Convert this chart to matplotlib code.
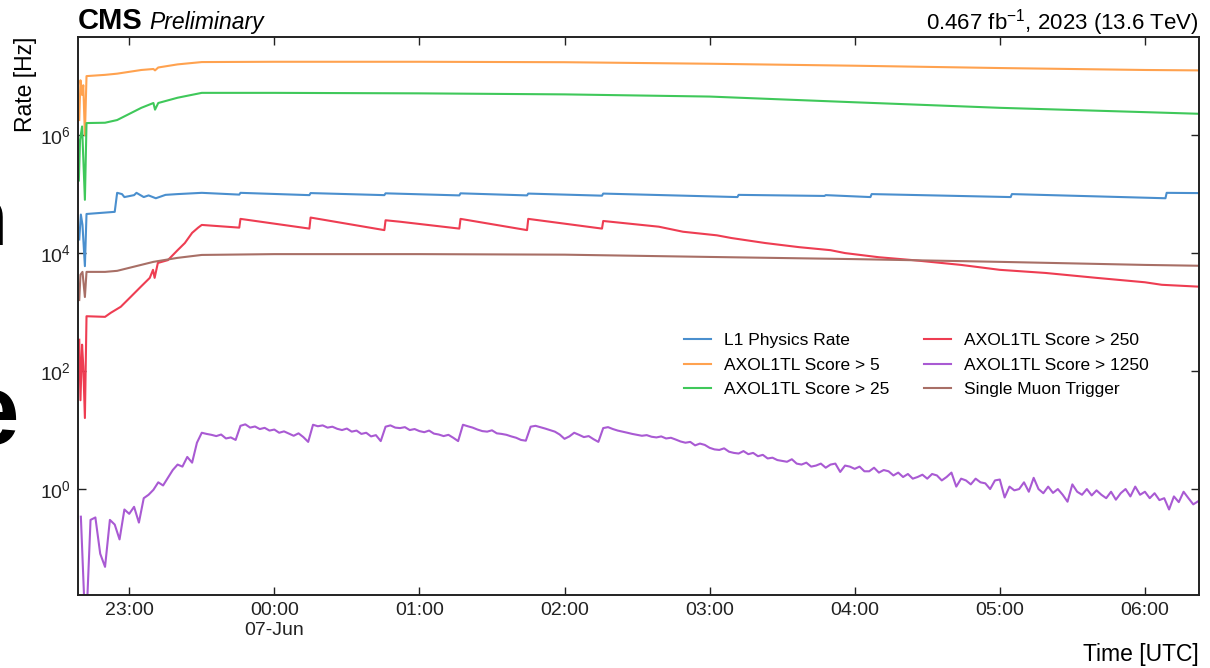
import matplotlib

matplotlib.use("Agg")
import matplotlib.dates as mdates
import matplotlib.pyplot as plt
import matplotlib.ticker as mticker
import numpy as np
import pandas as pd

plt.rcParams["font.family"] = ["Liberation Sans", "DejaVu Sans"]
plt.rcParams["mathtext.fontset"] = "custom"
plt.rcParams["mathtext.rm"] = "Liberation Sans"
plt.rcParams["mathtext.it"] = "Liberation Sans:italic"
plt.rcParams["mathtext.bf"] = "Liberation Sans:bold"

FIRST_DAY = "2023-06-06"
X_RANGE = ["22:38:50", "06:22:25"]
Y_RANGE = [1.6e-2, 4.6e7]
Y_TICKS = [1e0, 1e2, 1e4, 1e6]

SERIES_NAMES = [
    "L1 Physics Rate",
    "AXOL1TL Score > 5",
    "AXOL1TL Score > 25",
    "AXOL1TL Score > 250",
    "AXOL1TL Score > 1250",
    "Single Muon Trigger",
]

# L1 physics rate [Hz]
l1_times = ["22:39:20", "22:40:00", "22:40:40", "22:41:40", "22:42:20", "22:54:00", "22:55:00",
            "22:57:00", "22:58:00", "23:02:00", "23:03:00", "23:06:00", "23:08:00", "23:11:00",
            "23:15:00", "23:20:00", "23:30:00", "23:45:30", "23:46:00", "00:14:30", "00:15:00",
            "00:45:30", "00:46:00", "01:16:30", "01:17:00", "01:44:30", "01:45:00", "02:15:30",
            "02:16:00", "03:11:30", "03:12:00", "03:47:30", "03:48:00", "04:06:30", "04:07:00",
            "05:04:30", "05:05:00", "06:08:30", "06:09:00", "06:22:00"]
l1_rate = [1.7e4, 4.5e4, 3.0e4, 6.0e3, 4.6e4, 5.0e4, 1.05e5,
           1.0e5, 8.9e4, 9.6e4, 1.05e5, 8.9e4, 9.5e4, 8.5e4,
           9.7e4, 1.0e5, 1.05e5, 9.8e4, 1.05e5, 9.6e4, 1.04e5,
           9.6e4, 1.03e5, 9.5e4, 1.03e5, 9.5e4, 1.02e5, 9.4e4,
           1.02e5, 8.9e4, 9.7e4, 9.3e4, 9.6e4, 8.9e4, 1.0e5,
           8.9e4, 1.0e5, 8.5e4, 1.05e5, 1.04e5]

# AXOL1TL score > 5
s5_times = ["22:39:20", "22:39:50", "22:40:30", "22:41:00", "22:41:40", "22:42:20", "22:50:00",
            "22:55:00", "23:05:00", "23:10:00", "23:10:40", "23:12:00", "23:20:00", "23:30:00",
            "00:00:00", "01:00:00", "02:00:00", "03:00:00", "04:00:00", "05:00:00", "06:00:00",
            "06:22:00"]
s5_rate = [1.8e6, 8.5e6, 4.8e6, 7.0e6, 1.0e6, 1.0e7, 1.05e7,
           1.1e7, 1.27e7, 1.32e7, 1.25e7, 1.4e7, 1.58e7, 1.73e7,
           1.75e7, 1.75e7, 1.72e7, 1.62e7, 1.5e7, 1.37e7, 1.27e7,
           1.25e7]

# AXOL1TL score > 25
s25_times = ["22:39:10", "22:39:40", "22:40:30", "22:41:40", "22:42:20", "22:50:00", "22:55:00",
             "23:05:00", "23:10:00", "23:10:40", "23:12:00", "23:20:00", "23:30:00", "00:00:00",
             "01:00:00", "02:00:00", "03:00:00", "04:00:00", "05:00:00", "06:00:00", "06:22:00"]
s25_rate = [1.7e5, 8.3e5, 1.4e6, 8.0e4, 1.6e6, 1.62e6, 1.8e6,
            2.9e6, 3.5e6, 2.7e6, 3.5e6, 4.3e6, 5.2e6, 5.2e6,
            5.1e6, 4.9e6, 4.5e6, 3.6e6, 2.9e6, 2.45e6, 2.3e6]

# AXOL1TL score > 250
s250_times = ["22:39:20", "22:39:50", "22:40:30", "22:41:00", "22:41:40", "22:42:20", "22:50:00",
              "22:52:20", "22:56:30", "23:00:40", "23:04:50", "23:08:30", "23:09:50", "23:10:30",
              "23:11:50", "23:16:00", "23:20:00", "23:23:00", "23:26:00", "23:28:30", "23:30:00",
              "23:45:30", "23:46:00", "00:14:30", "00:15:00", "00:45:30", "00:46:00", "00:52:00",
              "01:16:30", "01:17:00", "01:44:30", "01:45:00", "02:15:30", "02:16:00", "02:39:00",
              "02:49:00", "03:03:00", "03:09:00", "03:23:00", "03:37:00", "03:50:00", "03:56:00",
              "04:10:00", "04:24:00", "04:44:00", "05:00:00", "05:19:00", "05:40:00", "06:00:00",
              "06:07:00", "06:22:00"]
s250_rate = [3.4e2, 32, 2.8e2, 1.2e2, 16, 8.5e2, 8.3e2,
             9.7e2, 1.23e3, 1.82e3, 2.7e3, 3.8e3, 5.2e3, 3.8e3,
             6.8e3, 7.6e3, 1.12e4, 1.48e4, 2.2e4, 2.7e4, 3.0e4,
             2.7e4, 3.8e4, 2.6e4, 4.0e4, 2.45e4, 3.6e4, 3.4e4,
             2.6e4, 3.8e4, 2.45e4, 3.8e4, 2.6e4, 3.5e4, 2.8e4,
             2.3e4, 2.0e4, 1.8e4, 1.48e4, 1.26e4, 1.12e4, 1.0e4,
             8.5e3, 7.6e3, 6.3e3, 5.2e3, 4.6e3, 3.8e3, 3.2e3,
             2.9e3, 2.7e3]

# AXOL1TL score > 1250, 2-minute bins starting at 22:40
s1250_start = "22:40"
s1250_bin_min = 2
s1250_rate = [
    0.34, 0.003, 0.30, 0.33, 0.08, 0.048, 0.30, 0.25, 0.14, 0.45,
    0.38, 0.50, 0.27, 0.70, 0.80, 0.97, 1.3, 1.15, 1.55, 2.1,
    2.6, 2.4, 3.5, 2.8, 6.1, 9.0, 8.6, 8.3, 7.9, 8.4,
    7.2, 7.5, 6.8, 11.8, 12.5, 11.0, 11.5, 10.4, 10.9, 9.8,
    10.2, 9.0, 9.5, 8.7, 8.0, 8.8, 7.6, 6.3, 12.3, 11.6,
    12.0, 11.0, 11.4, 10.5, 10.0, 10.6, 9.4, 9.8, 8.6, 9.0,
    7.8, 8.2, 6.5, 11.4, 12.0, 11.0, 10.8, 11.2, 10.0, 10.4,
    9.6, 9.2, 9.8, 8.7, 8.4, 7.9, 8.3, 7.4, 6.5, 12.3,
    11.6, 11.0, 10.2, 9.6, 9.4, 9.9, 8.8, 8.6, 8.3, 7.8,
    7.4, 6.8, 6.6, 11.4, 11.8, 11.2, 10.6, 10.0, 9.4, 8.4,
    7.1, 7.8, 9.0, 8.3, 7.6, 7.9, 7.0, 6.3, 10.8, 11.2,
    10.4, 9.8, 9.4, 9.0, 8.6, 8.3, 8.0, 8.2, 7.7, 7.5,
    7.8, 7.2, 7.4, 6.9, 6.4, 6.1, 6.3, 5.5, 5.9, 5.6,
    5.0, 4.7, 4.6, 4.9, 4.3, 4.1, 4.0, 4.4, 3.9, 4.1,
    3.6, 3.8, 3.3, 3.4, 3.1, 3.0, 2.9, 3.2, 2.7, 2.6,
    2.8, 2.4, 2.5, 2.7, 2.3, 2.6, 2.7, 1.95, 2.5, 2.4,
    2.2, 2.4, 2.0, 2.0, 2.3, 1.9, 2.1, 2.0, 1.7, 1.9,
    1.6, 1.8, 1.5, 1.6, 1.75, 1.5, 1.8, 1.7, 1.4, 1.6,
    1.9, 1.1, 1.5, 1.4, 1.2, 1.5, 1.3, 1.25, 1.0, 1.4,
    1.45, 0.72, 1.1, 0.95, 1.0, 1.3, 0.9, 1.55, 1.0, 0.85,
    1.1, 0.86, 1.0, 0.8, 0.61, 1.2, 0.9, 0.8, 1.0, 0.78,
    0.95, 0.8, 0.7, 0.9, 0.66, 0.85, 1.0, 0.75, 1.1, 0.8,
    0.9, 0.7, 0.85, 0.65, 0.7, 0.45, 0.75, 0.6, 0.9, 0.7,
    0.55, 0.62,
]

# single muon trigger
mu_times = ["22:39:20", "22:39:50", "22:40:40", "22:41:40", "22:42:20", "22:50:00", "22:55:00",
            "23:10:00", "23:20:00", "23:30:00", "00:00:00", "01:00:00", "02:00:00", "03:00:00",
            "04:00:00", "05:00:00", "06:00:00", "06:22:00"]
mu_rate = [1.6e3, 4.3e3, 4.8e3, 1.8e3, 4.8e3, 4.8e3, 5.0e3,
           7.1e3, 8.3e3, 9.3e3, 9.6e3, 9.6e3, 9.4e3, 8.6e3,
           7.9e3, 7.1e3, 6.3e3, 6.1e3]

COLORS = ["#4a8fce", "#ffa24f", "#3fc85a", "#ee3d52", "#a95ad3", "#a86f66"]


def to_time(clock: str) -> pd.Timestamp:
    ts = pd.Timestamp(f"{FIRST_DAY} {clock}")
    if ts.hour < 12:
        ts += pd.Timedelta(days=1)
    return ts


def hour_label(x, pos):
    t = mdates.num2date(x)
    if t.hour == 0:
        return t.strftime("%H:%M\n%d-%b")
    return t.strftime("%H:%M")


def main() -> None:
    s1250_times = pd.date_range(to_time(s1250_start), periods=len(s1250_rate),
                                freq=f"{s1250_bin_min}min")
    series = [
        ([to_time(t) for t in l1_times], l1_rate),
        ([to_time(t) for t in s5_times], s5_rate),
        ([to_time(t) for t in s25_times], s25_rate),
        ([to_time(t) for t in s250_times], s250_rate),
        (list(s1250_times), s1250_rate),
        ([to_time(t) for t in mu_times], mu_rate),
    ]

    fig = plt.figure(figsize=(12.1, 6.68), dpi=100)
    ax = fig.add_axes([0.0645, 0.1093, 0.9265, 0.8353])

    for (times, rate), name, color in zip(series, SERIES_NAMES, COLORS):
        ax.plot(times, rate, color=color, lw=1.5, label=name)

    ax.set_yscale("log")
    ax.set_ylim(*Y_RANGE)
    ax.set_xlim(to_time(X_RANGE[0]), to_time(X_RANGE[1]))
    ax.yaxis.set_major_locator(mticker.FixedLocator(Y_TICKS))
    ax.yaxis.set_minor_locator(mticker.NullLocator())
    ax.yaxis.set_major_formatter(
        mticker.FuncFormatter(lambda v, p: f"$10^{{{int(round(np.log10(v)))}}}$"))
    ax.xaxis.set_major_locator(mdates.HourLocator())
    ax.xaxis.set_minor_locator(mticker.NullLocator())
    ax.xaxis.set_major_formatter(mticker.FuncFormatter(hour_label))

    ax.tick_params(which="both", direction="in", top=True, right=True, length=6,
                   width=1, labelsize=14, colors="#222222")
    ax.tick_params(axis="y", pad=5)
    ax.tick_params(axis="x", pad=5)
    for spine in ax.spines.values():
        spine.set_linewidth(1.4)
        spine.set_color("#222222")

    ax.set_ylabel("Rate [Hz]", loc="top", fontsize=16.5, labelpad=2)
    ax.set_xlabel("Time [UTC]", loc="right", fontsize=16.5, labelpad=3)

    ax.text(0.0, 1.014, "CMS", transform=ax.transAxes, fontsize=21, fontweight="bold",
            ha="left", va="baseline")
    ax.text(0.064, 1.014, "Preliminary", transform=ax.transAxes, fontsize=16.5,
            style="italic", ha="left", va="baseline")
    ax.text(1.0, 1.014, r"0.467 fb$^{-1}$, 2023 (13.6 TeV)", transform=ax.transAxes,
            fontsize=16, ha="right", va="baseline")

    ax.legend(ncol=2, loc="center", bbox_to_anchor=(0.748, 0.412), frameon=False,
              fontsize=12.5, handlelength=1.55, handletextpad=0.75, columnspacing=2.0,
              labelspacing=0.55)

    # cut-off slide text at the left edge
    fig.text(7 / 1210, 1 - 245 / 668, "n", fontsize=60, fontweight="bold",
             ha="right", va="baseline")
    fig.text(19 / 1210, 1 - 444 / 668, "e", fontsize=72, fontweight="bold",
             ha="right", va="baseline")

    fig.savefig("out.png", dpi=100)
    plt.close(fig)


if __name__ == "__main__":
    main()
